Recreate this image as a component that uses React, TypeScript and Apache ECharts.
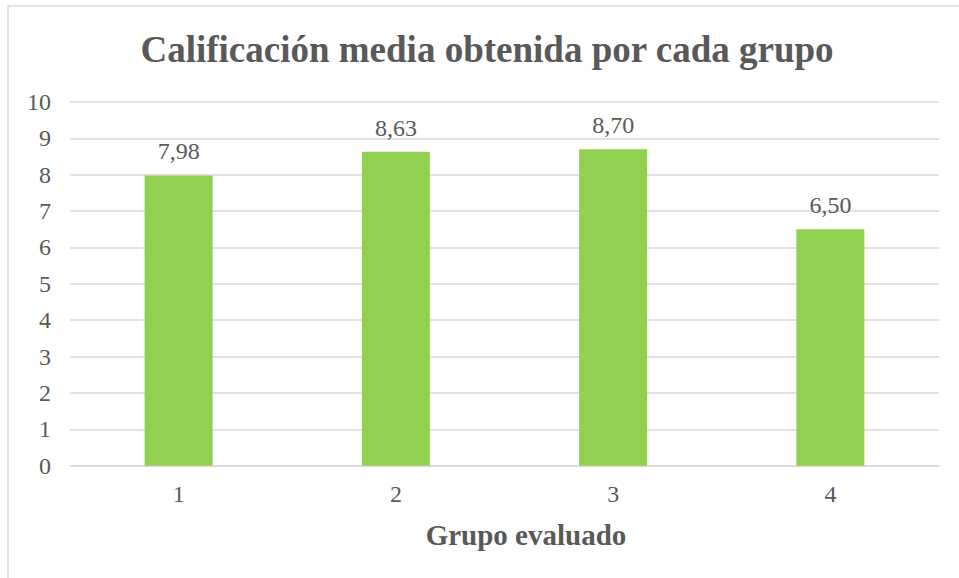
import React, { useEffect, useRef } from "react";
import * as echarts from "echarts";

const categories = ["1", "2", "3", "4"];
const values = [7.98, 8.63, 8.7, 6.5];
const yTicks = { min: 0, max: 10, interval: 1 };
const title = "Calificación media obtenida por cada grupo";
const xTitle = "Grupo evaluado";

const FONT = "Liberation Serif";
const TEXT = "#595959";
const GRID = "#d9d9d9";

export default function App() {
  const ref = useRef<HTMLDivElement>(null);
  useEffect(() => {
    if (!ref.current) return;
    const chart = echarts.init(ref.current, null, { renderer: "svg" });
    chart.setOption({
      animation: false,
      backgroundColor: "#ffffff",
      textStyle: { fontFamily: FONT },
      graphic: [
        {
          type: "rect",
          shape: { x: 8, y: 6, width: 1100, height: 1100 },
          style: { fill: "none", stroke: GRID, lineWidth: 1.5 },
          silent: true,
        },
        {
          type: "text",
          x: 487,
          y: 49.5,
          style: {
            text: title,
            fontFamily: FONT,
            fontWeight: "bold",
            fontSize: 37,
            fill: TEXT,
            textAlign: "center",
            textVerticalAlign: "middle",
          },
        },
        {
          type: "text",
          x: 526,
          y: 535,
          style: {
            text: xTitle,
            fontFamily: FONT,
            fontWeight: "bold",
            fontSize: 29,
            fill: TEXT,
            textAlign: "center",
            textVerticalAlign: "middle",
          },
        },
      ],
      grid: { left: 70, right: 20, top: 102, bottom: 112.3, containLabel: false },
      xAxis: {
        type: "category",
        data: categories,
        axisLine: { show: true, lineStyle: { color: GRID, width: 1.5 } },
        axisTick: { show: false },
        axisLabel: { color: TEXT, fontFamily: FONT, fontSize: 24, margin: 16 },
      },
      yAxis: {
        type: "value",
        min: yTicks.min,
        max: yTicks.max,
        interval: yTicks.interval,
        axisLine: { show: false },
        axisTick: { show: false },
        splitLine: { show: true, lineStyle: { color: GRID, width: 1.5 } },
        axisLabel: { color: TEXT, fontFamily: FONT, fontSize: 24, margin: 19 },
      },
      series: [
        {
          type: "bar",
          data: values,
          barWidth: 68,
          itemStyle: { color: "#92D050" },
          label: {
            show: true,
            position: "top",
            distance: 12,
            color: TEXT,
            fontFamily: FONT,
            fontSize: 24,
            formatter: (p: any) => p.value.toFixed(2).replace(".", ","),
          },
        },
      ],
    });
    return () => chart.dispose();
  }, []);
  return (
    <div
      ref={ref}
      style={{ position: "fixed", left: 0, top: 0, width: 959, height: 578 }}
    />
  );
}
